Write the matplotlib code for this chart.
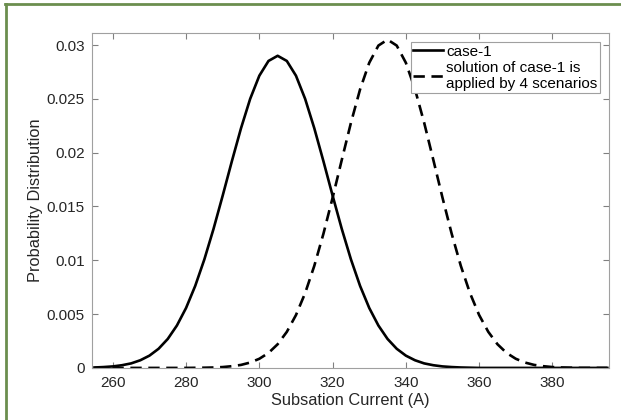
import matplotlib
matplotlib.use('Agg')
import matplotlib.pyplot as plt
from matplotlib.lines import Line2D
from matplotlib import ticker

plt.rcParams['font.family'] = ['Liberation Sans', 'DejaVu Sans']

current = [255, 257.5, 260, 262.5, 265, 267.5, 270, 272.5, 275, 277.5,
           280, 282.5, 285, 287.5, 290, 292.5, 295, 297.5, 300, 302.5,
           305, 307.5, 310, 312.5, 315, 317.5, 320, 322.5, 325, 327.5,
           330, 332.5, 335, 337.5, 340, 342.5, 345, 347.5, 350, 352.5,
           355, 357.5, 360, 362.5, 365, 367.5, 370, 372.5, 375, 377.5,
           380, 382.5, 385, 387.5, 390, 392.5, 395]

# case-1
case1 = [0.00004, 0.00008, 0.00014, 0.00025, 0.00042, 0.00071, 0.00114, 0.00178, 0.00269, 0.00394,
         0.00557, 0.00762, 0.01009, 0.01292, 0.01601, 0.01920, 0.02227, 0.02500, 0.02715, 0.02852,
         0.02900, 0.02852, 0.02715, 0.02500, 0.02227, 0.01920, 0.01601, 0.01292, 0.01009, 0.00762,
         0.00557, 0.00394, 0.00269, 0.00178, 0.00114, 0.00071, 0.00042, 0.00025, 0.00014, 0.00008,
         0.00004, 0.00002, 0, 0, 0, 0, 0, 0, 0, 0,
         0, 0, 0, 0, 0, 0, 0]

# solution of case-1 applied by 4 scenarios
scen4 = [0, 0, 0, 0, 0, 0, 0, 0, 0, 0,
         0, 0.00001, 0.00002, 0.00004, 0.00008, 0.00016, 0.00028, 0.00050, 0.00085, 0.00139,
         0.00220, 0.00335, 0.00491, 0.00695, 0.00948, 0.01247, 0.01581, 0.01932, 0.02277, 0.02588,
         0.02835, 0.02995, 0.03050, 0.02995, 0.02835, 0.02588, 0.02277, 0.01932, 0.01581, 0.01247,
         0.00948, 0.00695, 0.00491, 0.00335, 0.00220, 0.00139, 0.00085, 0.00050, 0.00028, 0.00016,
         0.00008, 0.00004, 0.00002, 0, 0, 0, 0]

labels = ['case-1', 'solution of case-1 is\napplied by 4 scenarios']
yticks = [0, 0.005, 0.01, 0.015, 0.02, 0.025, 0.03]
xticks = [260, 280, 300, 320, 340, 360, 380]

fig = plt.figure(figsize=(6.21, 4.2), dpi=100)
ax = fig.add_axes([0.148, 0.124, 0.833, 0.797])

ax.plot(current, case1, color='black', lw=1.9, label=labels[0])
ax.plot(current, scen4, color='black', lw=1.9, dashes=(4.3, 2.5), label=labels[1])

ax.set_xlim(254.3, 395.5)
ax.set_ylim(0, 0.0311)
ax.set_xticks(xticks)
ax.set_yticks(yticks)
ax.yaxis.set_major_formatter(ticker.FormatStrFormatter('%g'))
ax.tick_params(direction='in', top=True, right=True, length=4, width=0.8,
               color='#808080', labelcolor='#262626', labelsize=11)
ax.tick_params(axis='x', pad=6)
ax.tick_params(axis='y', pad=5)
for s in ax.spines.values():
    s.set_color('#a0a0a0')
    s.set_linewidth(0.8)

ax.set_xlabel('Subsation Current (A)', fontsize=11.8, color='#262626', labelpad=2)
ax.set_ylabel('Probability Distribution', fontsize=11.8, color='#262626', labelpad=3)

leg = ax.legend(loc='upper right', fontsize=11, frameon=True, fancybox=False,
                edgecolor='#a0a0a0', framealpha=1, borderpad=0.15, labelspacing=0.15,
                handlelength=2.0, handletextpad=0.2, borderaxespad=0.6)
leg.get_frame().set_linewidth(0.8)

# frame lines from the page the chart sits on
fig.add_artist(Line2D([0.008, 1.0], [0.99, 0.99], color='#6b8e4e', lw=2, transform=fig.transFigure))
fig.add_artist(Line2D([0.009, 0.009], [0.0, 0.99], color='#6b8e4e', lw=2, transform=fig.transFigure))

fig.savefig('out.png', dpi=100)
